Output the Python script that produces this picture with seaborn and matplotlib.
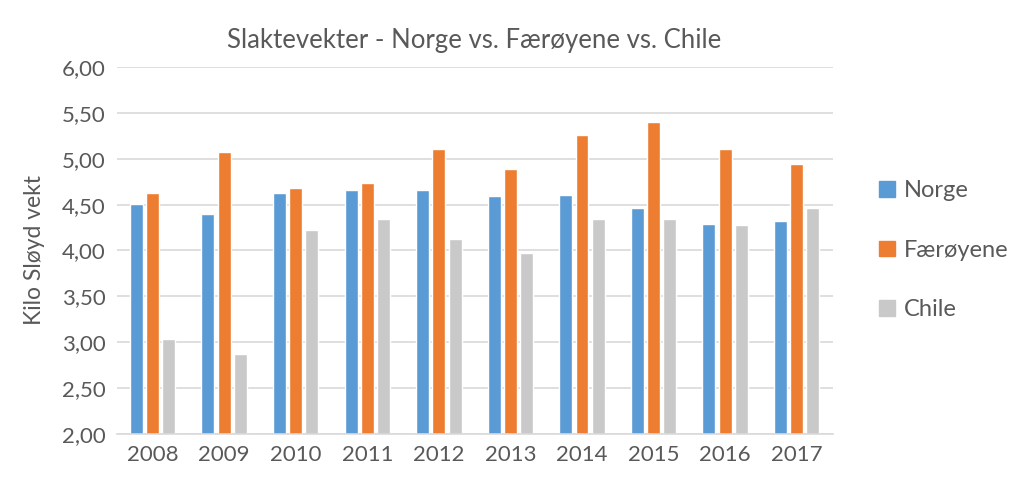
import numpy as np
import pandas as pd
import matplotlib.pyplot as plt
import seaborn as sns

years = ["2008", "2009", "2010", "2011", "2012", "2013", "2014", "2015", "2016", "2017"]
norge = [4.51, 4.40, 4.63, 4.66, 4.66, 4.59, 4.60, 4.46, 4.29, 4.32]
faeroyene = [4.63, 5.07, 4.68, 4.74, 5.11, 4.89, 5.26, 5.40, 5.11, 4.94]
chile = [3.03, 2.87, 4.22, 4.34, 4.13, 3.97, 4.34, 4.34, 4.28, 4.46]

series = ["Norge", "Færøyene", "Chile"]
colors = ["#5B9BD5", "#ED7D31", "#C9C9C9"]

df = pd.DataFrame({"year": years, "Norge": norge, "Færøyene": faeroyene, "Chile": chile})
long = df.melt(id_vars="year", var_name="land", value_name="vekt")

sns.set_theme(style="white")
plt.rcParams["font.family"] = ["Lato", "DejaVu Sans"]
text_col = "#595959"

fig = plt.figure(figsize=(10.24, 4.93), dpi=100)
ax = fig.add_axes([0.114, 0.120, 0.699, 0.744])

sns.barplot(data=long, x="year", y="vekt", hue="land", hue_order=series,
            palette=colors, width=0.68, gap=0.2, saturation=1, ax=ax, legend=False)

ax.set_ylim(2.0, 6.0)
ax.set_yticks(np.arange(2.0, 6.01, 0.5))
ax.set_yticklabels([f"{v:.2f}".replace(".", ",") for v in np.arange(2.0, 6.01, 0.5)])
ax.yaxis.grid(True, color="#D9D9D9", linewidth=1.2)
ax.set_axisbelow(True)
for s in ["top", "right", "left"]:
    ax.spines[s].set_visible(False)
ax.spines["bottom"].set_color("#D9D9D9")
ax.spines["bottom"].set_linewidth(1.2)
ax.tick_params(axis="both", length=0, labelsize=16, colors=text_col, pad=8)
ax.set_xlabel("")
ax.set_ylabel("Kilo Sløyd vekt", fontsize=16.5, color=text_col, labelpad=12)
ax.set_title("Slaktevekter - Norge vs. Færøyene vs. Chile", fontsize=18.5, color=text_col, pad=14)

handles = [plt.Rectangle((0, 0), 1, 1, color=c) for c in colors]
fig.legend(handles, series, loc="upper left", bbox_to_anchor=(0.838, 0.677),
           frameon=False, fontsize=17, labelcolor=text_col, labelspacing=1.62,
           handlelength=0.65, handleheight=0.65, handletextpad=0.4)

fig.savefig("out.png", dpi=100)
